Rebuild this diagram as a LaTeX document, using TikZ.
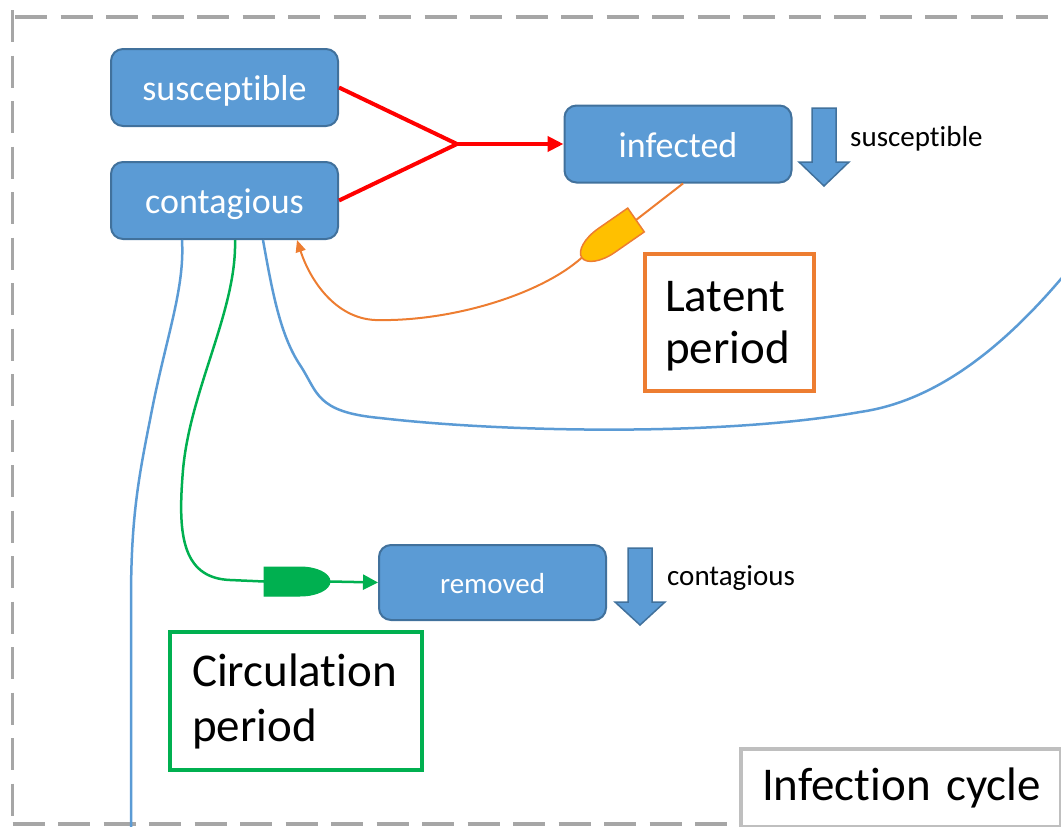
\documentclass[tikz,border=0pt]{standalone}
\usepackage{fontspec}
\setmainfont{Carlito}[Ligatures=NoCommon]
\usetikzlibrary{arrows.meta}
\definecolor{boxblue}{HTML}{5B9BD5}
\definecolor{boxedge}{HTML}{41719C}
\definecolor{lateorange}{HTML}{ED7D31}
\definecolor{gold}{HTML}{FFC000}
\definecolor{circgreen}{HTML}{00B050}
\definecolor{framegray}{HTML}{A6A6A6}
\definecolor{taggray}{HTML}{BFBFBF}
\definecolor{flowred}{HTML}{FF0000}
\tikzset{
  state/.style={draw=boxedge, line width=2pt, fill=boxblue, rounded corners=12pt,
    text=white, minimum width=227pt, minimum height=77pt, inner sep=0pt,
    text height=26pt, text depth=0pt,
    font=\fontsize{36}{40}\selectfont},
  smallstate/.style={state, minimum height=75pt, text height=21pt,
    font=\fontsize{29}{32}\selectfont},
  note/.style={anchor=base west, inner sep=0pt, font=\fontsize{29}{32}\selectfont},
  periodbox/.style={line width=4.5pt, fill=white, inner ysep=0pt, align=left,
    font=\fontsize{47}{55}\selectfont},
  downarrow/.style={draw=boxedge, line width=1.5pt, fill=boxblue, line join=miter},
  redflow/.style={draw=flowred, line width=4pt},
  blueflow/.style={draw=boxblue, line width=2.5pt},
  gate/.pic={
    \path[pic actions] (0,-14.5) -- (36,-14.5)
      arc[start angle=-90, end angle=90, x radius=30, y radius=14.5]
      -- (0,14.5) -- cycle;
    \coordinate (-in) at (0,0);
    \coordinate (-out) at (66,0);
  }
}
\begin{document}
\begin{tikzpicture}[x=1pt, y=-1pt]
\useasboundingbox (0,0) rectangle (1061,827);
\begin{scope}
\clip (0,0) rectangle (1061,827);

% dashed outer frame of the cycle
\draw[framegray, line width=3.5pt, dash pattern=on 32pt off 13.5pt]
  (15,17) -- (1080,17);
\draw[framegray, line width=3.5pt, dash pattern=on 32pt off 13.5pt]
  (12.5,10) -- (12.5,824);
\draw[framegray, line width=3.5pt, dash pattern=on 32pt off 13.5pt]
  (12.5,824) -- (740,824);

% states
\node[state] (sus)  at (224.5,87.5)  {susceptible};
\node[state] (cont) at (224.5,200.5) {contagious};
\node[state] (inf)  at (678,144)     {infected};
\node[smallstate] (rem) at (492.5,582.5) {removed};

% decrease markers
\path[downarrow] (812,108) -- (836,108) -- (836,162) -- (849,162) -- (824,186)
  -- (799,162) -- (812,162) -- cycle;
\node[note] (nsus) at (850,146) {susceptible};
\path[downarrow] (628,548) -- (652,548) -- (652,602) -- (665,602) -- (640,625)
  -- (615,602) -- (628,602) -- cycle;
\node[note] (ncont) at (667,585) {contagious};

% infection: susceptible + contagious -> infected
\coordinate (j) at (457,144);
\draw[redflow] (sus.east) -- (j);
\draw[redflow] (cont.east) -- (j);
\draw[redflow, -{Triangle[length=16pt, width=15pt]}] (j) -- (inf.west);

% latent period: infected -> contagious
\pic[fill=gold, draw=lateorange, line width=1.5pt, rotate=214.8] (og) at (636,220) {gate};
\draw[lateorange, line width=2pt] ([xshift=5pt]inf.south) -- (og-in);
\draw[lateorange, line width=2pt, -{Triangle[length=12pt, width=10pt]}]
  (og-out) .. controls (540,295) and (450,322) .. (375,320)
  .. controls (335,318) and (310,280) .. ([xshift=72.5pt]cont.south);

% circulation period: contagious -> removed
\pic[fill=circgreen, draw=circgreen, line width=1pt] (gg) at (264,581.5) {gate};
\draw[circgreen, line width=2.5pt]
  ([xshift=10.5pt]cont.south) .. controls (237,310) and (190,390) .. (183,470)
  .. controls (178,530) and (180,578) .. (230,580) -- (gg-in);
\draw[circgreen, line width=2.5pt, -{Triangle[length=15pt, width=15pt]}]
  (gg-out) -- (rem.west);

% contagious flows leaving the picture
\coordinate (outb) at (131,835);
\coordinate (outr) at (1075,262);
\draw[blueflow] ([xshift=-42.5pt]cont.south) .. controls (185,290) and (165,340) .. (150,420)
  .. controls (138,480) and (131,520) .. (131,600) -- (outb);
\draw[blueflow] ([xshift=38.5pt]cont.south) .. controls (272,290) and (280,335) .. (300,365)
  .. controls (318,392) and (315,412) .. (380,418)
  .. controls (500,432) and (720,437) .. (860,412)
  .. controls (930,402) and (1000,355) .. (outr);

% period labels
\node[periodbox, draw=lateorange, minimum width=169pt, minimum height=137pt,
  text width=129pt, inner xsep=20pt, font=\fontsize{47}{52}\selectfont]
  (lat) at (729.5,322.5) {\rule{0pt}{38pt}Latent\\period};
\node[periodbox, draw=circgreen, minimum width=252pt, minimum height=138pt,
  text width=208pt, inner xsep=22pt] (circ) at (296,701) {Circulation\\period};
\node[periodbox, draw=taggray, line width=4pt, anchor=north west,
  minimum width=320pt, minimum height=78pt, text width=278pt, inner xsep=21pt]
  (cycle) at (739,747) {\mbox{Infection cycle}};
\end{scope}
\end{tikzpicture}
\end{document}
